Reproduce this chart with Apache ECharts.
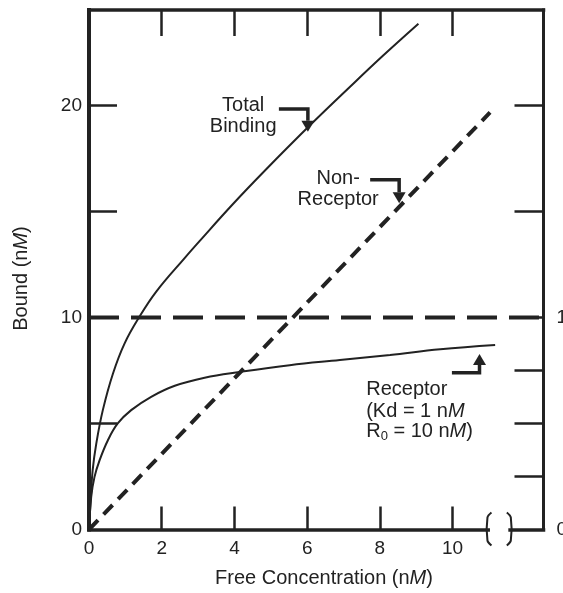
<!DOCTYPE html>
<html>
<head>
<meta charset="utf-8">
<script src="https://cdn.jsdelivr.net/npm/echarts@6/dist/echarts.min.js"></script>
<style>
  html, body { margin: 0; padding: 0; background: #fff; }
  #chart { width: 563px; height: 593px; }
</style>
</head>
<body>
<div id="chart"></div>
<script>
// values: [free conc (nM), bound (nM)]
var totalBinding = [
  [0, 0], [0.05, 1.5], [0.1, 2.79], [0.2, 4.05], [0.38, 5.63], [0.66, 7.36],
  [0.98, 8.78], [1.39, 10.04], [1.85, 11.22], [2.63, 12.8], [3.04, 13.6],
  [3.96, 15.35], [4.88, 17.0], [6.07, 19.05], [7.18, 20.88], [8.09, 22.35], [9.06, 23.85]
];
var receptorBound = [
  [0, 0], [0.06, 1.53], [0.15, 2.47], [0.29, 3.26], [0.52, 4.21], [0.79, 5.0],
  [1.16, 5.63], [1.71, 6.26], [2.36, 6.78], [3.18, 7.16], [4.15, 7.43],
  [5.52, 7.75], [6.9, 7.99], [8.28, 8.23], [9.66, 8.5], [11.17, 8.7]
];
var nonReceptor = [[0, 0], [11.03, 19.67]];
var receptorMax = [[0, 10], [12.5, 10]];   // R0 = 10 nM

var xTicks = [2, 4, 6, 8, 10];
var xLabels = [0, 2, 4, 6, 8, 10];
var leftTicks = [5, 10, 15, 20];
var leftLabels = [0, 10, 20];
var rightTicks = [2.5, 5, 7.5, 10, 15, 20];
var rightLabels = [0, 10];

// where the annotation arrows point (data coords)
var totalTip = [6.02, 18.76];
var nonRecTip = [8.53, 15.39];
var receptorTip = [10.74, 8.28];
var breakAt = [11.0, 11.56];

var ink = '#222';
var font = '"Liberation Sans", Arial, Helvetica, sans-serif';

var chart = echarts.init(document.getElementById('chart'));

function frameAxis(pos, ticks, labels, tickLen, margin, lineW) {
  return {
    type: 'value',
    position: pos,
    min: 0,
    max: (pos === 'top' || pos === 'bottom') ? 12.5 : 24.5,
    splitLine: { show: false },
    axisLine: { show: true, onZero: false, lineStyle: { color: ink, width: lineW, cap: 'square' } },
    axisTick: { show: true, inside: true, length: tickLen, customValues: ticks, lineStyle: { color: ink, width: 2.5 } },
    axisLabel: {
      show: labels.length > 0, customValues: labels, margin: margin,
      color: ink, fontSize: 19, fontFamily: font
    }
  };
}

chart.setOption({
  animation: false,
  backgroundColor: '#fff',
  grid: { left: 89, right: 19.5, top: 10, bottom: 63.5, containLabel: false, outerBoundsMode: 'none' },
  xAxis: [
    frameAxis('bottom', xTicks, xLabels, 23, 10, 3.5),
    frameAxis('top', xTicks, [], 26, 8, 3.5)
  ],
  yAxis: [
    frameAxis('left', leftTicks, leftLabels, 28, 7, 4),
    frameAxis('right', rightTicks, rightLabels, 29, 13, 3)
  ],
  series: [
    {
      name: 'R0', type: 'line', data: receptorMax, symbol: 'none',
      lineStyle: { color: ink, width: 4, type: [30, 12] }
    },
    {
      name: 'Non-Receptor', type: 'line', data: nonReceptor, symbol: 'none',
      lineStyle: { color: ink, width: 4, type: [13, 8] }
    },
    {
      name: 'Total Binding', type: 'line', data: totalBinding, symbol: 'none',
      smooth: 0.4,
      lineStyle: { color: ink, width: 2 }
    },
    {
      name: 'Receptor', type: 'line', data: receptorBound, symbol: 'none',
      smooth: 0.4,
      lineStyle: { color: ink, width: 2 }
    }
  ]
});

function px(p) {
  return chart.convertToPixel({ gridIndex: 0 }, p);
}

// elbow arrow: dir 1 = pointing down, -1 = pointing up; arm goes to the left
function elbowArrow(tip, dir, stem, arm) {
  var hx = tip[0], hy = tip[1], headH = 11, headW = 13;
  return [
    {
      type: 'polyline', z: 10,
      shape: { points: [[hx - arm, hy - dir * stem], [hx, hy - dir * stem], [hx, hy - dir * headH]] },
      style: { stroke: ink, lineWidth: 3.5, fill: null }
    },
    {
      type: 'polygon', z: 10,
      shape: { points: [[hx, hy], [hx - headW / 2, hy - dir * headH], [hx + headW / 2, hy - dir * headH]] },
      style: { fill: ink }
    }
  ];
}

function label(x, y, text, align, rich) {
  return {
    type: 'text', z: 10, x: x, y: y,
    style: {
      text: text, fill: ink, fontSize: 20, fontFamily: font,
      align: align, verticalAlign: 'middle', rich: rich || {}
    }
  };
}

var italic = { i: { fontStyle: 'italic', fontSize: 20, fontFamily: font, fill: ink } };
var subRich = {
  i: { fontStyle: 'italic', fontSize: 20, fontFamily: font, fill: ink },
  s: { fontSize: 13, fontFamily: font, fill: ink, padding: [10, 0, 0, 0] }
};

var t = px(totalTip), n = px(nonRecTip), r = px(receptorTip);
var b0 = px([breakAt[0], 0]), b1 = px([breakAt[1], 0]);

function bracket(cx, cy, side) {
  return {
    type: 'polyline', z: 12,
    shape: { points: [[cx + 2.5 * side, cy - 17], [cx - 1.5 * side, cy - 12], [cx - 1.5 * side, cy + 11], [cx + 2.5 * side, cy + 16]], smooth: 0.3 },
    style: { stroke: ink, lineWidth: 2, fill: null }
  };
}

var g = [];
g = g.concat(elbowArrow(t, 1, 22.7, 29));
g = g.concat(elbowArrow(n, 1, 23.3, 29));
g = g.concat(elbowArrow(r, -1, 18.7, 27.6));
g.push(label(t[0] - 64.7, t[1] - 26, 'Total', 'center'));
g.push(label(t[0] - 64.7, t[1] - 5, 'Binding', 'center'));
g.push(label(n[0] - 61, n[1] - 24.3, 'Non-', 'center'));
g.push(label(n[0] - 61, n[1] - 3.3, 'Receptor', 'center'));
g.push(label(r[0] - 113.3, r[1] + 36, 'Receptor', 'left'));
g.push(label(r[0] - 113.3, r[1] + 57.7, '(Kd = 1 n{i|M}', 'left', italic));
g.push(label(r[0] - 113.3, r[1] + 77.7, 'R{s|0} = 10 n{i|M})', 'left', subRich));

// axis break on the free-concentration axis
g.push({
  type: 'rect', z: 11,
  shape: { x: b0[0] + 1, y: b0[1] - 5, width: b1[0] - b0[0] - 2, height: 10 },
  style: { fill: '#fff' }
});
g.push(bracket(b0[0], b0[1], 1));
g.push(bracket(b1[0], b1[1], -1));

// axis titles
g.push(label(324, 578, 'Free Concentration (n{i|M})', 'center', italic));
g.push({
  type: 'text', z: 10, x: 21.7, y: 278.5, rotation: Math.PI / 2,
  style: {
    text: 'Bound (n{i|M})', fill: ink, fontSize: 20, fontFamily: font,
    align: 'center', verticalAlign: 'middle', rich: italic
  }
});

chart.setOption({ graphic: g });
</script>
</body>
</html>
